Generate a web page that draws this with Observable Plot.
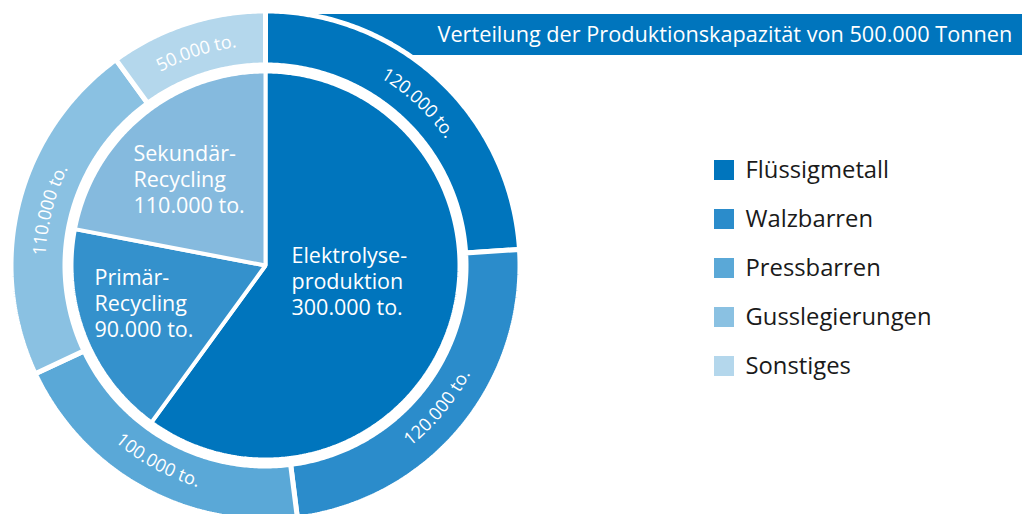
<!DOCTYPE html>
<html>
<head>
<meta charset="utf-8">
<script src="https://cdn.jsdelivr.net/npm/d3@7"></script>
<script src="https://cdn.jsdelivr.net/npm/@observablehq/plot@0.6"></script>
<style>
  html, body { margin: 0; padding: 0; background: #fff; }
  #chart { width: 1022px; height: 514px; }
</style>
</head>
<body>
<div id="chart"></div>
<script>
// ---- data ----
const innerCategories = ["Elektrolyse-\nproduktion", "Primär-\nRecycling", "Sekundär-\nRecycling"];
const innerValues = [300000, 90000, 110000];
const innerColors = ["#0075bd", "#3491cc", "#85bade"];

const outerCategories = ["Flüssigmetall", "Walzbarren", "Pressbarren", "Gusslegierungen", "Sonstiges"];
const outerValues = [120000, 120000, 100000, 110000, 50000];
const outerColors = ["#0075bd", "#2b8ccb", "#5aa8d7", "#8ac1e2", "#b4d7ec"];

const titlePrefix = "Verteilung der Produktionskapazität von";
const unitShort = "to.";
const unitLong = "Tonnen";

// ---- layout ----
const W = 1022, H = 514;
const cx = 265, cy = 265;
const pieR = 194;
const ringR0 = 200.5, ringR1 = 254.5;
const labelR = 226;
const font = "'Open Sans', 'Noto Sans', sans-serif";
const innerLabelPos = [[291, 280], [94, 302], [133, 178]];

const de = d3.formatLocale({decimal: ",", thousands: ".", grouping: [3], currency: ["", "€"]});
const fmt = de.format(",");

function polar(a, r) { return [cx + r * Math.sin(a), cy - r * Math.cos(a)]; }

function arcs(values, colors, r0, r1) {
  const total = d3.sum(values);
  const pts = [];
  const segs = [];
  let acc = 0;
  values.forEach((v, i) => {
    const a0 = acc / total * 2 * Math.PI;
    acc += v;
    const a1 = acc / total * 2 * Math.PI;
    segs.push({i, a0, a1, mid: (a0 + a1) / 2, value: v});
    const n = Math.max(8, Math.ceil((a1 - a0) / 0.01));
    for (let k = 0; k <= n; k++) {
      const a = a0 + (a1 - a0) * k / n;
      const [x, y] = polar(a, r1);
      pts.push({key: i, x, y, color: colors[i]});
    }
    if (r0 <= 0) {
      pts.push({key: i, x: cx, y: cy, color: colors[i]});
    } else {
      for (let k = n; k >= 0; k--) {
        const a = a0 + (a1 - a0) * k / n;
        const [x, y] = polar(a, r0);
        pts.push({key: i, x, y, color: colors[i]});
      }
    }
  });
  return {pts, segs};
}

const inner = arcs(innerValues, innerColors, 0, pieR);
const outer = arcs(outerValues, outerColors, ringR0, ringR1);

// curved labels for outer ring
const canvas = document.createElement("canvas");
const ctx = canvas.getContext("2d");
const ringFontSize = 18;
ctx.font = `${ringFontSize}px 'Open Sans'`;
const ringChars = [];
outer.segs.forEach(s => {
  const str = `${fmt(s.value)} ${unitShort}`;
  const chars = Array.from(str);
  const widths = chars.map(c => ctx.measureText(c).width);
  const total = d3.sum(widths);
  const flip = s.mid > Math.PI / 2 && s.mid < 3 * Math.PI / 2;
  let cum = 0;
  chars.forEach((c, j) => {
    const off = (cum + widths[j] / 2) / labelR;
    cum += widths[j];
    const theta = flip ? s.mid + total / (2 * labelR) - off : s.mid - total / (2 * labelR) + off;
    const [x, y] = polar(theta, labelR);
    let rot = theta * 180 / Math.PI;
    if (flip) rot -= 180;
    if (rot > 180) rot -= 360;
    ringChars.push({x, y, c, rot});
  });
});

const innerLabels = inner.segs.map((s, i) => ({
  x: innerLabelPos[i][0], y: innerLabelPos[i][1],
  text: `${innerCategories[i]}\n${fmt(s.value)} ${unitShort}`
}));

const legendRows = outerCategories.map((name, i) => ({name, color: outerColors[i], y: 170 + i * 49}));

const totalValue = d3.sum(outerValues);
const title = `${titlePrefix} ${fmt(totalValue)} ${unitLong}`;

const chart = Plot.plot({
  width: W, height: H,
  margin: 0,
  x: {type: "identity", axis: null},
  y: {type: "identity", axis: null},
  color: {type: "identity"},
  style: {fontFamily: font, background: "white"},
  marks: [
    // title banner
    Plot.rect([{x1: 267, x2: W, y1: 14, y2: 55}], {x1: "x1", x2: "x2", y1: "y1", y2: "y2", fill: "#0075bd"}),
    Plot.text([title], {x: 437, y: 35, text: d => d, fill: "white", fontSize: 21.7, textAnchor: "start", lineAnchor: "middle"}),
    // inner pie
    Plot.line(inner.pts, {x: "x", y: "y", z: "key", fill: "color", stroke: "white", strokeWidth: 4, curve: "linear-closed", strokeLinejoin: "miter"}),
    // outer ring
    Plot.line(outer.pts, {x: "x", y: "y", z: "key", fill: "color", stroke: "white", strokeWidth: 5, curve: "linear-closed", strokeLinejoin: "miter"}),
    // inner labels
    Plot.text(innerLabels, {x: "x", y: "y", text: "text", fill: "white", fontSize: 21.5, lineHeight: 1.23, textAnchor: "start", lineAnchor: "middle"}),
    // ring labels
    Plot.text(ringChars, {x: "x", y: "y", text: "c", rotate: "rot", fill: "white", fontSize: ringFontSize, textAnchor: "middle", lineAnchor: "middle"}),
    // legend
    Plot.rect(legendRows, {x1: 714, x2: 734, y1: d => d.y - 10, y2: d => d.y + 10, fill: "color"}),
    Plot.text(legendRows, {x: 745, y: "y", text: "name", fill: "#1a1a1a", fontSize: 23.8, textAnchor: "start", lineAnchor: "middle"})
  ]
});
document.getElementById("chart").appendChild(chart);
</script>
</body>
</html>
